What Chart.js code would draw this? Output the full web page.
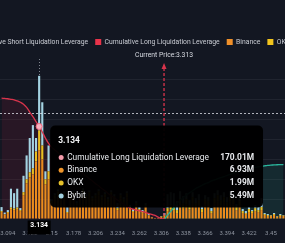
<!DOCTYPE html>
<html>
<head>
<meta charset="utf-8">
<script src="https://cdn.jsdelivr.net/npm/chart.js@4.4.0/dist/chart.umd.min.js"></script>
<style>
  html, body { margin: 0; padding: 0; background: #131722; overflow: hidden; }
  #wrap { position: relative; width: 285px; height: 243px; overflow: hidden; }
  #myChart { position: absolute; left: -48px; top: 0; }
</style>
</head>
<body>
<div id="wrap"><canvas id="myChart" width="380" height="243"></canvas></div>
<script>
// price levels (category axis)
const prices = [3.086, 3.09, 3.094, 3.098, 3.102, 3.106, 3.11, 3.114, 3.118, 3.122,
  3.126, 3.13, 3.134, 3.138, 3.142, 3.146, 3.15, 3.154, 3.158, 3.162,
  3.166, 3.17, 3.174, 3.178, 3.182, 3.186, 3.19, 3.194, 3.198, 3.202,
  3.206, 3.21, 3.214, 3.218, 3.222, 3.226, 3.23, 3.234, 3.238, 3.242,
  3.246, 3.25, 3.254, 3.258, 3.262, 3.266, 3.27, 3.274, 3.282, 3.29,
  3.298, 3.306, 3.314, 3.318, 3.322, 3.326, 3.33, 3.334, 3.338, 3.342,
  3.346, 3.35, 3.354, 3.358, 3.362, 3.366, 3.37, 3.374, 3.378, 3.382,
  3.386, 3.39, 3.394, 3.398, 3.402, 3.406, 3.41, 3.414, 3.418, 3.422,
  3.426, 3.43, 3.434, 3.438, 3.442, 3.446, 3.45, 3.454, 3.458, 3.462, 3.466];

// liquidation leverage per exchange (M)
const binance = [0.7, 0.45, 0.6, 1.0, 0.9, 1.0, 0.8, 2.4, 3.6, 4.2,
  4.5, 5.8, 6.93, 6.0, 3.5, 4.0, 1.6, 2.1, 2.4, 1.9,
  2.2, 0.6, 2.0, 2.3, 1.4, 2.2, 2.5, 2.0, 2.3, 1.8,
  2.1, 2.4, 1.9, 2.2, 1.7, 2.3, 2.0, 0.9, 2.1, 1.7,
  2.2, 1.0, 0.7, 1.4, 0.9, 0.6, 1.2, 0.35, 0.15, 0.08,
  0.08, 0.2, 0.3, 0.8, 1.0, 0.9, 0.6, 1.4, 1.1, 1.5,
  1.0, 1.6, 1.2, 1.4, 0.7, 1.5, 1.3, 0.6, 1.6, 1.8,
  1.4, 1.7, 1.2, 1.8, 1.5, 0.9, 1.4, 0.6, 0.5, 0.7,
  0.6, 0.8, 0.7, 0.9, 0.4, 0.3, 0.3, 0.4, 0.2, 0.3, 0.3];
const okx = [0.1, 0.05, 0.1, 0.15, 0.15, 0.15, 0.1, 0.3, 0.4, 0.5,
  0.6, 1.0, 1.99, 1.4, 0.5, 0.8, 0.2, 0.3, 0.4, 0.3,
  0.4, 0.1, 0.3, 0.4, 0.2, 0.3, 0.4, 0.3, 0.4, 0.3,
  0.3, 0.4, 0.3, 0.3, 0.3, 0.4, 0.3, 0.2, 0.3, 0.3,
  0.4, 0.2, 0.1, 0.2, 0.1, 0.1, 0.2, 0.05, 0.03, 0.01,
  0.01, 0.05, 0.1, 0.3, 0.4, 0.3, 0.3, 0.6, 0.5, 0.5,
  0.4, 0.6, 0.4, 0.5, 0.3, 0.5, 0.5, 0.2, 0.5, 0.6,
  0.5, 0.5, 0.5, 0.5, 0.5, 0.3, 0.4, 0.2, 0.1, 0.3,
  0.2, 0.3, 0.2, 0.3, 0.1, 0.1, 0.05, 0.1, 0.05, 0.1, 0.05];
const bybit = [0.4, 0.15, 0.2, 1.9, 1.55, 1.9, 0.2, 1.65, 2.4, 3.45,
  4.35, 1.35, 5.49, 4.35, 0.8, 2.6, 0.2, 0.2, 0.2, 0.2,
  0.2, 0.5, 0.2, 0.2, 0.2, 0.2, 0.2, 0.2, 0.2, 0.2,
  0.2, 0.2, 0.2, 0.2, 0.2, 0.2, 0.2, 0.5, 0.2, 0.2,
  0.2, 0.2, 0.2, 0.2, 0.2, 0.2, 0.2, 0.1, 0.02, 0.01,
  0.01, 0.05, 0.2, 1.4, 1.3, 1.4, 0.9, 0.8, 0.7, 0.6,
  0.5, 0.5, 0.5, 0.6, 0.3, 0.4, 0.4, 0.3, 0.5, 0.5,
  0.5, 0.5, 0.5, 0.5, 0.8, 0.3, 0.5, 0.2, 0.2, 0.2,
  0.1, 0.3, 0.3, 0.9, 0.1, 0.1, 0.05, 0.1, 0.05, 0.1, 0.05];

// cumulative leverage curves (M)
const longCum = [222, 221.5, 221, 220, 219, 217, 214.5, 211, 205, 196.5,
  188, 179, 170.01, 160, 148.6, 139, 132, 127, 122, 117,
  112, 107, 102, 97, 92, 88, 83, 79, 74, 70,
  65, 61, 56, 52, 47, 43, 39, 35, 31, 27,
  23, 20, 18, 16.5, 15, 13.5, 12, 10, 8.3, 6.6,
  3.3, 0.8, 0, null, null, null, null, null, null, null,
  null, null, null, null, null, null, null, null, null, null,
  null, null, null, null, null, null, null, null, null, null,
  null, null, null, null, null, null, null, null, null, null, null];
const shortCum = [null, null, null, null, null, null, null, null, null, null,
  null, null, null, null, null, null, null, null, null, null,
  null, null, null, null, null, null, null, null, null, null,
  null, null, null, null, null, null, null, null, null, null,
  null, null, null, null, null, null, null, null, null, null,
  null, null, 0, 7, 14, 21, 28, 34, 39, 44,
  48, 52, 56, 59, 62, 65, 67, 70, 72, 74,
  76, 78, 80, 82, 84, 86, 88, 89.5, 91, 92.5,
  94, 95, 96, 97, 97.8, 98.5, 99, 99.4, 99.7, 99.9, 100];

const currentPrice = 3.313;
const hoverIndex = 12;
const cursorValue = 10.7;

const fontFamily = 'Roboto, "Liberation Sans", Arial, sans-serif';
Chart.defaults.font.family = fontFamily;

const legendColors = ['#2bb59c', '#e8334a', '#f0902a', '#f2c41d', '#9fd3e3'];

function fmtM(v) {
    return v.toFixed(2) + 'M';
}

const overlayPlugin = {
    id: 'overlay',
    beforeDatasetsDraw(chart) {
        const {ctx, chartArea} = chart;
        const x = chart.scales.x.getPixelForValue(hoverIndex);
        ctx.save();
        ctx.strokeStyle = 'rgba(220,225,235,0.55)';
        ctx.lineWidth = 1;
        ctx.setLineDash([1, 2]);
        ctx.beginPath();
        ctx.moveTo(Math.round(x) + 0.5, chartArea.top - 6);
        ctx.lineTo(Math.round(x) + 0.5, chartArea.bottom);
        ctx.stroke();
        ctx.restore();
    },
    afterDatasetsDraw(chart) {
        const {ctx, chartArea, scales} = chart;
        ctx.save();
        // cursor horizontal line
        const cy = Math.round(scales.y.getPixelForValue(cursorValue)) + 0.5;
        ctx.strokeStyle = 'rgba(230,232,240,0.75)';
        ctx.lineWidth = 1;
        ctx.setLineDash([2, 2]);
        ctx.beginPath();
        ctx.moveTo(chartArea.left, cy);
        ctx.lineTo(chartArea.right, cy);
        ctx.stroke();

        // current price marker
        let i = 0;
        while (i < prices.length - 1 && prices[i + 1] < currentPrice) i++;
        const f = (currentPrice - prices[i]) / (prices[i + 1] - prices[i]);
        const px = scales.x.getPixelForValue(i) + f * (scales.x.getPixelForValue(i + 1) - scales.x.getPixelForValue(i));
        const tip = chartArea.top - 2;
        ctx.strokeStyle = '#d8344c';
        ctx.lineWidth = 1.3;
        ctx.setLineDash([3, 2]);
        ctx.beginPath();
        ctx.moveTo(px, tip + 5);
        ctx.lineTo(px, chartArea.bottom);
        ctx.stroke();
        ctx.setLineDash([]);
        ctx.fillStyle = '#d8344c';
        ctx.beginPath();
        ctx.moveTo(px, tip);
        ctx.lineTo(px - 2.5, tip + 6);
        ctx.lineTo(px + 2.5, tip + 6);
        ctx.closePath();
        ctx.fill();
        ctx.fillStyle = '#d9dce3';
        ctx.font = '6.8px ' + fontFamily;
        ctx.textAlign = 'center';
        ctx.textBaseline = 'middle';
        ctx.fillText('Current Price:' + currentPrice, px, tip - 8);
        ctx.restore();
    },
    afterDraw(chart) {
        const {ctx, chartArea, scales} = chart;
        const pt = chart.getDatasetMeta(1).data[hoverIndex];
        const rows = [
            {name: 'Cumulative Long Liquidation Leverage', value: longCum[hoverIndex], color: '#f39aaa'},
            {name: 'Binance', value: binance[hoverIndex], color: '#f0952a'},
            {name: 'OKX', value: okx[hoverIndex], color: '#e8c22a'},
            {name: 'Bybit', value: bybit[hoverIndex], color: '#a3d2e2'}
        ];
        ctx.save();
        ctx.font = '8.4px ' + fontFamily;
        const labelW = Math.max(...rows.map(r => ctx.measureText(r.name).width));
        const valueW = Math.max(...rows.map(r => ctx.measureText(fmtM(r.value)).width));
        const w = 17 + labelW + 12 + valueW + 9;
        const h = 82;
        const bx = pt.x + 11;
        const by = pt.y - 1;
        ctx.fillStyle = 'rgba(0,0,0,0.96)';
        ctx.beginPath();
        ctx.roundRect(bx, by, w, h, 5);
        ctx.fill();

        ctx.textBaseline = 'middle';
        ctx.fillStyle = '#f2f3f5';
        ctx.font = 'bold 8.4px ' + fontFamily;
        ctx.textAlign = 'left';
        ctx.fillText(String(prices[hoverIndex]), bx + 8, by + 15);

        ctx.font = '8.4px ' + fontFamily;
        rows.forEach((r, k) => {
            const ry = by + 32 + k * 12.8;
            ctx.fillStyle = r.color;
            ctx.beginPath();
            ctx.arc(bx + 11, ry, 2.5, 0, Math.PI * 2);
            ctx.fill();
            ctx.fillStyle = '#e6e8ec';
            ctx.textAlign = 'left';
            ctx.fillText(r.name, bx + 17, ry);
            ctx.textAlign = 'right';
            ctx.font = 'bold 8.4px ' + fontFamily;
            ctx.fillText(fmtM(r.value), bx + w - 9, ry);
            ctx.font = '8.4px ' + fontFamily;
        });

        // highlighted x label
        const lx = scales.x.getPixelForValue(hoverIndex);
        ctx.fillStyle = '#000';
        ctx.fillRect(lx - 11.5, chartArea.bottom + 1.5, 23, 14);
        ctx.fillStyle = '#ffffff';
        ctx.font = 'bold 6.8px ' + fontFamily;
        ctx.textAlign = 'center';
        ctx.fillText(String(prices[hoverIndex]), lx, chartArea.bottom + 6.8);
        ctx.restore();
    }
};

const chart1 = new Chart(document.getElementById('myChart'), {
    type: 'bar',
    data: {
        labels: prices,
        datasets: [
            {
                type: 'line', label: 'Cumulative Short Liquidation Leverage', data: shortCum,
                yAxisID: 'y1', order: 0, borderColor: '#2bb59c', borderWidth: 1.3,
                backgroundColor: 'rgba(40,170,150,0.13)', fill: 'origin',
                pointRadius: 0, tension: 0.35, spanGaps: false
            },
            {
                type: 'line', label: 'Cumulative Long Liquidation Leverage', data: longCum,
                yAxisID: 'y1', order: 1, borderColor: '#d8344c', borderWidth: 1.3,
                backgroundColor: 'rgba(170,30,60,0.14)', fill: 'origin',
                pointRadius: (c) => c.dataIndex === hoverIndex ? 3 : 0,
                pointBackgroundColor: '#f7b3c0', pointBorderColor: '#f06c84', pointBorderWidth: 1,
                tension: 0.35
            },
            {label: 'Binance', data: binance, order: 2, backgroundColor: '#ea8c1e', yAxisID: 'y'},
            {label: 'OKX', data: okx, order: 3, backgroundColor: '#e9bf22', yAxisID: 'y'},
            {label: 'Bybit', data: bybit, order: 4, backgroundColor: '#a4d3e2', yAxisID: 'y'}
        ]
    },
    options: {
        responsive: false,
        animation: false,
        devicePixelRatio: 1,
        layout: {padding: {top: 31.6, bottom: 2.8}},
        datasets: {bar: {barPercentage: 0.68, categoryPercentage: 1}},
        plugins: {
            tooltip: {enabled: false},
            filler: {drawTime: 'beforeDatasetsDraw'},
            // empty spacer between legend and plot (room for the price marker)
            title: {display: true, text: '', weight: 500, padding: 0, font: {size: 8}},
            legend: {
                display: true,
                position: 'top',
                labels: {
                    color: '#c9ccd3',
                    font: {size: 6.8},
                    boxWidth: 6,
                    boxHeight: 6,
                    padding: 7,
                    generateLabels: (chart) => {
                        const items = Chart.defaults.plugins.legend.labels.generateLabels(chart);
                        items.forEach((it, i) => {
                            it.fillStyle = legendColors[i];
                            it.strokeStyle = legendColors[i];
                            it.lineWidth = 0;
                        });
                        return items;
                    }
                }
            }
        },
        scales: {
            x: {
                stacked: true,
                grid: {display: false},
                border: {display: false},
                ticks: {
                    color: '#8f95a0',
                    font: {size: 6},
                    autoSkip: false,
                    maxRotation: 0,
                    padding: 3,
                    callback: (v, i) => (i % 7 === 2 ? String(prices[i]) : '')
                }
            },
            y: {
                stacked: true,
                position: 'left',
                min: 0,
                max: 15.5,
                afterFit: (s) => { s.width = 48; },
                ticks: {display: false, stepSize: 2},
                border: {display: false},
                grid: {
                    drawTicks: false,
                    color: (c) => (c.tick.value > 0 && c.tick.value % 2 === 0 ? 'rgba(255,255,255,0.06)' : 'rgba(0,0,0,0)')
                }
            },
            y1: {
                position: 'right',
                min: 0,
                max: 283,
                afterFit: (s) => { s.width = 47; },
                ticks: {display: false},
                border: {display: false},
                grid: {display: false}
            }
        }
    },
    plugins: [overlayPlugin]
});
</script>
</body>
</html>
